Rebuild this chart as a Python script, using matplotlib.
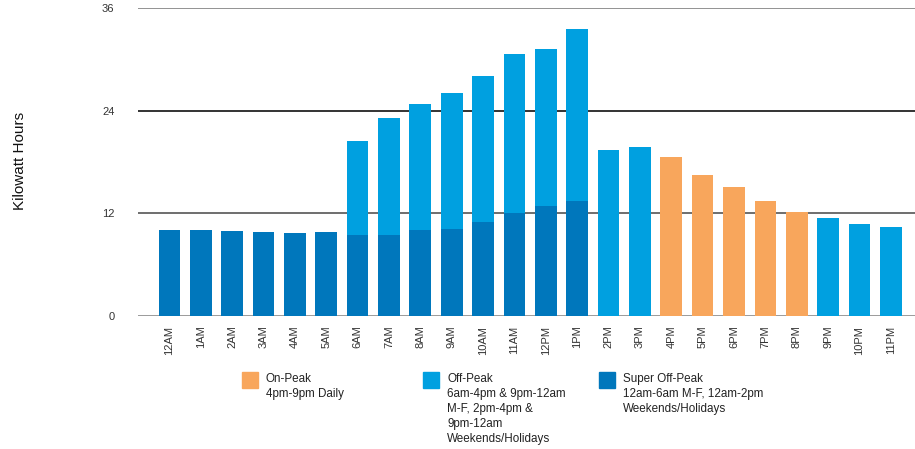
import matplotlib
matplotlib.use("Agg")
import matplotlib.pyplot as plt
from matplotlib.patches import Rectangle
from matplotlib import font_manager

hours = ["12AM", "1AM", "2AM", "3AM", "4AM", "5AM", "6AM", "7AM", "8AM", "9AM",
         "10AM", "11AM", "12PM", "1PM", "2PM", "3PM", "4PM", "5PM", "6PM", "7PM",
         "8PM", "9PM", "10PM", "11PM"]
super_off_peak = [10.1, 10.0, 9.9, 9.8, 9.7, 9.8, 9.5, 9.5, 10.0, 10.2,
                  11.0, 12.0, 12.8, 13.5, 0, 0, 0, 0, 0, 0, 0, 0, 0, 0]
off_peak = [0, 0, 0, 0, 0, 0, 10.9, 13.6, 14.75, 15.85,
            17.0, 18.6, 18.4, 20.0, 19.4, 19.8, 0, 0, 0, 0, 0, 11.4, 10.8, 10.35]
on_peak = [0] * 16 + [18.55, 16.45, 15.05, 13.4, 12.2] + [0, 0, 0]

yticks = [0, 12, 24, 36]
legend_titles = ["On-Peak", "Off-Peak", "Super Off-Peak"]
legend_descs = ["4pm-9pm Daily",
                "6am-4pm & 9pm-12am\nM-F, 2pm-4pm &\n9pm-12am\nWeekends/Holidays",
                "12am-6am M-F, 12am-2pm\nWeekends/Holidays"]

C_ON = "#F8A65C"
C_OFF = "#00A0E0"
C_SUPER = "#0077BC"

avail = {f.name for f in font_manager.fontManager.ttflist}
fam = "Liberation Sans Narrow" if "Liberation Sans Narrow" in avail else "Liberation Sans"
leg_size = 9 if fam == "Liberation Sans Narrow" else 8.4
plt.rcParams['font.family'] = ["Liberation Sans", "DejaVu Sans"]

W, H = 915, 449
fig = plt.figure(figsize=(W / 100, H / 100), dpi=100)
ax = fig.add_axes([138 / W, 1 - 316 / H, 1 - 138 / W, (316 - 8) / H])

x = list(range(len(hours)))
bw = 0.69
ax.bar(x, super_off_peak, width=bw, color=C_SUPER, zorder=3)
ax.bar(x, off_peak, width=bw, bottom=super_off_peak, color=C_OFF, zorder=3)
ax.bar(x, on_peak, width=bw, color=C_ON, zorder=3)

grid_colors = {0: "#8a8a8a", 12: "#555555", 24: "#111111", 36: "#808080"}
for yv in yticks:
    ax.axhline(yv, color=grid_colors[yv], lw=1.2, zorder=2)

ax.set_xlim(-1.0, 23.77)
ax.set_ylim(0, 36)
for s in ax.spines.values():
    s.set_visible(False)
ax.set_yticks(yticks)
ax.set_yticklabels([str(v) for v in yticks], fontsize=8, color="#333333")
ax.set_xticks(x)
ax.set_xticklabels(hours, rotation=90, fontsize=8, color="#333333")
ax.tick_params(axis='y', length=0, pad=17)
ax.tick_params(axis='x', length=0, pad=7)

fig.text(20 / W, 1 - 161 / H, "Kilowatt Hours", rotation=90, ha="center", va="center",
         fontsize=11, color="#111111")

leg = [(242, 266, C_ON), (423, 447, C_OFF), (599, 623, C_SUPER)]
for (bx, tx, col), t, d in zip(leg, legend_titles, legend_descs):
    fig.add_artist(Rectangle((bx / W, 1 - 388 / H), 16 / W, 16 / H,
                             transform=fig.transFigure, color=col))
    fig.text(tx / W, 1 - 373 / H, t + "\n" + d, ha="left", va="top",
             fontsize=leg_size, family=[fam, "DejaVu Sans"], color="#222222",
             linespacing=1.33)

fig.savefig("out.png", dpi=100)
